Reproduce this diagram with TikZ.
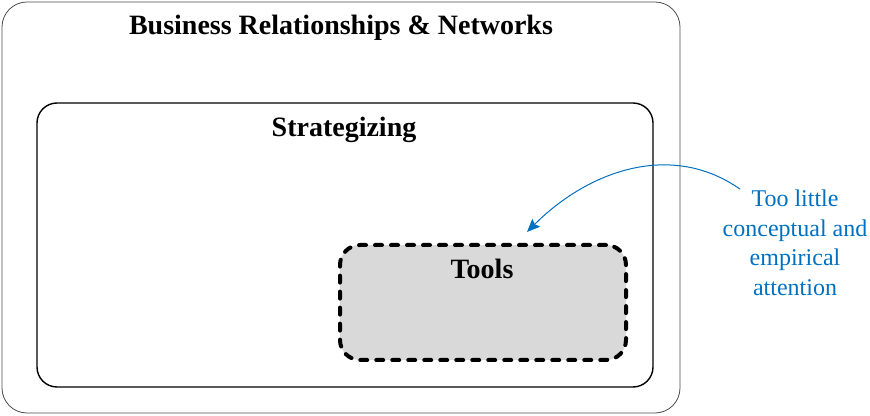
\documentclass[tikz,border=0pt]{standalone}
\usepackage{fontspec}
\setmainfont{Liberation Serif}
\usetikzlibrary{positioning,arrows.meta}
\definecolor{noteblue}{RGB}{0,112,192}
\definecolor{toolgray}{RGB}{217,217,217}

\begin{document}
\begin{tikzpicture}[x=1pt, y=1pt, >={Stealth[length=13pt,width=11pt,inset=2pt]},
    frame/.style={draw, rounded corners=#1, inner sep=0pt},
    heading/.style={font=\bfseries\fontsize{28}{32}\selectfont, anchor=base}]
        \useasboundingbox (0,0) rectangle (870,415);
        \node [frame=25pt, draw=black!70, line width=0.8pt, minimum width=678pt, minimum height=411pt] (network) at (341,207.5) {};
        \node [frame=20pt, line width=1.4pt, minimum width=616pt, minimum height=284pt] (strategy) at (345,170) {};
        \node [frame=20pt, fill=toolgray, line width=4pt, line cap=round, dash pattern=on 7pt off 9pt,
               minimum width=286pt, minimum height=115pt] (tools) at (483,112.5) {};
        \node [heading] (network-title) at (341,380) {Business Relationships \& Networks};
        \node [heading] (strategy-title) at (344,278) {Strategizing};
        \node [heading] (tools-title) at (482,136) {Tools};
        \node [align=center, text=noteblue, font=\fontsize{24}{29.5}\selectfont, inner sep=1pt] (note) at (795,172)
          {Too little\\conceptual and\\empirical\\attention};
        \coordinate (tip) at (527,183);
        \draw [->, noteblue, line width=1pt] ([xshift=-55pt]note.north) to[out=145, in=45, looseness=1] (tip);
    \end{tikzpicture}
\end{document}
